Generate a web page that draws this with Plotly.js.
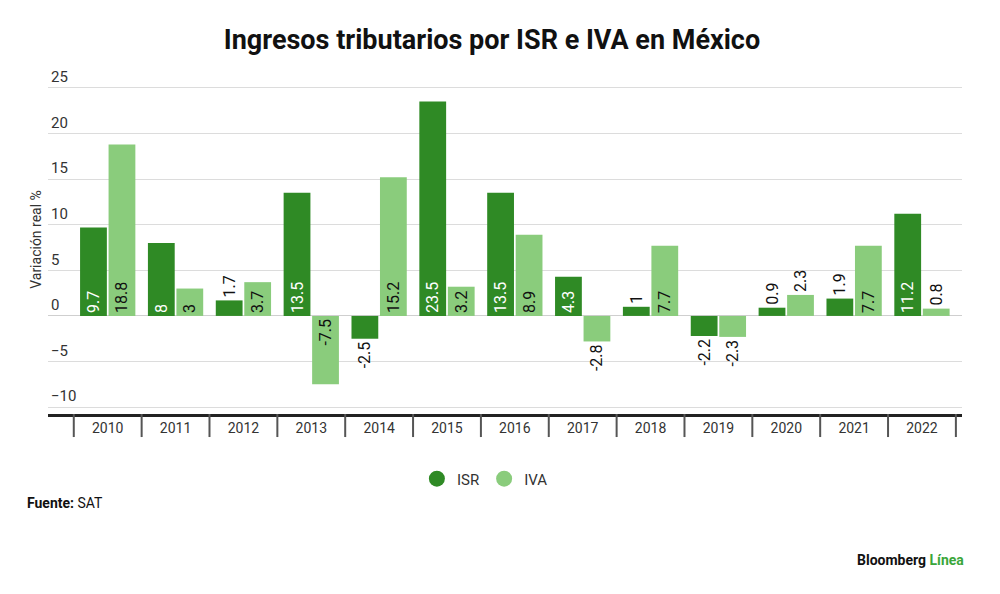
<!DOCTYPE html>
<html>
<head>
<meta charset="utf-8">
<script src="https://cdn.plot.ly/plotly-3.0.1.min.js"></script>
<style>
  body { margin: 0; background: #fff; }
  #chart { width: 1000px; height: 594px; }
</style>
</head>
<body>
<div id="chart"></div>
<script>
const years = ['2010', '2011', '2012', '2013', '2014', '2015', '2016', '2017', '2018', '2019', '2020', '2021', '2022'];
const isr = [9.7, 8, 1.7, 13.5, -2.5, 23.5, 13.5, 4.3, 1, -2.2, 0.9, 1.9, 11.2];
const iva = [18.8, 3, 3.7, -7.5, 15.2, 3.2, 8.9, -2.8, 7.7, -2.3, 2.3, 7.7, 0.8];
const yTicks = [-10, -5, 0, 5, 10, 15, 20, 25];

const darkGreen = '#2f8a25';
const lightGreen = '#8acc7c';
const labelFont = 'Roboto, "Liberation Sans", sans-serif';

// short bars get their label outside
function positions(vals) {
    return vals.map(v => Math.abs(v) >= 3 ? 'inside' : 'outside');
}

function barTrace(name, vals, color, insideColor) {
    return {
        type: 'bar',
        name: name,
        x: years,
        y: vals,
        text: vals.map(String),
        textposition: positions(vals),
        textangle: -90,
        insidetextanchor: 'start',
        constraintext: 'none',
        cliponaxis: false,
        insidetextfont: { family: labelFont, size: 16, color: insideColor },
        outsidetextfont: { family: labelFont, size: 16, color: '#111' },
        marker: { color: color },
        showlegend: false,
        hoverinfo: 'x+y'
    };
}

// dummy traces so the legend shows round markers
function legendTrace(name, color) {
    return {
        type: 'scatter',
        mode: 'markers',
        name: name,
        x: [null],
        y: [null],
        marker: { color: color, size: 18, symbol: 'circle' }
    };
}

const traces = [
    barTrace('ISR', isr, darkGreen, '#ffffff'),
    barTrace('IVA', iva, lightGreen, '#111111'),
    legendTrace('ISR', darkGreen),
    legendTrace('IVA', lightGreen)
];

// vertical dividers between the years under the axis
const shapes = [];
for (let i = 0; i <= years.length; i++) {
    shapes.push({
        type: 'line',
        xref: 'x', yref: 'paper',
        x0: i - 0.5, x1: i - 0.5,
        y0: 0, y1: -0.066,
        line: { color: '#555', width: 2 }
    });
}

const layout = {
    width: 1000,
    height: 594,
    margin: { l: 48, r: 38, t: 65, b: 180 },
    paper_bgcolor: '#fff',
    plot_bgcolor: '#fff',
    font: { family: labelFont, color: '#333', size: 14 },
    title: {
        text: '<b>Ingresos tributarios por ISR e IVA en México</b>',
        font: { family: 'Roboto, "Liberation Sans", sans-serif', size: 27, color: '#111' },
        x: 0.492, xanchor: 'center',
        y: 0.933, yanchor: 'middle', yref: 'container'
    },
    barmode: 'group',
    bargap: 0.16,
    bargroupgap: 0.06,
    xaxis: {
        type: 'category',
        range: [-0.88, 12.59],
        showline: true,
        linecolor: '#222',
        linewidth: 2.5,
        ticks: '',
        showgrid: false,
        tickfont: { size: 14, color: '#333' },
        fixedrange: true
    },
    yaxis: {
        range: [-10.75, 27.5],
        tickvals: yTicks,
        ticklabelposition: 'inside',
        ticklabelshift: -11,
        tickfont: { size: 15, color: '#333' },
        showgrid: true,
        gridcolor: '#dcdcdc',
        gridwidth: 1,
        zeroline: true,
        zerolinecolor: '#cfcfcf',
        zerolinewidth: 1,
        showline: false,
        title: { text: 'Variación real %', font: { size: 14, color: '#333' }, standoff: 6 },
        fixedrange: true
    },
    legend: {
        orientation: 'h',
        x: 0.478, xanchor: 'center',
        y: -0.186, yanchor: 'middle',
        font: { size: 15, color: '#333' },
        itemwidth: 30,
        traceorder: 'normal'
    },
    shapes: shapes,
    annotations: [
        {
            xref: 'paper', yref: 'paper',
            x: -0.025, y: -0.255,
            xanchor: 'left', yanchor: 'middle',
            showarrow: false,
            text: '<b>Fuente:</b> SAT',
            font: { size: 14, color: '#111' }
        },
        {
            xref: 'paper', yref: 'paper',
            x: 1.004, y: -0.418,
            xanchor: 'right', yanchor: 'middle',
            showarrow: false,
            text: '<b>Bloomberg <span style="color:#3aa63a">Línea</span></b>',
            font: { size: 14, color: '#111' }
        }
    ]
};

Plotly.newPlot('chart', traces, layout, { displayModeBar: false, staticPlot: true });
</script>
</body>
</html>
